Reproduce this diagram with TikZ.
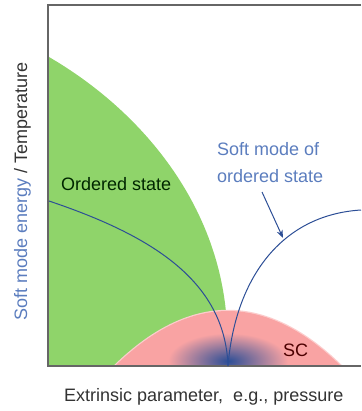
\documentclass[tikz,border=0pt]{standalone}
\usepackage{fontspec}
\setmainfont{Liberation Sans}
\usetikzlibrary{arrows.meta}
\definecolor{ordgreen}{HTML}{8FD46A}
\definecolor{scpink}{HTML}{F9A3A3}
\definecolor{modeblue}{HTML}{2C4E96}
\definecolor{lblblue}{HTML}{5B7DBE}
\colorlet{axgray}{black!60}
\colorlet{txtgray}{black!80}
\colorlet{ordtxt}{green!15!black}
\colorlet{sctxt}{red!30!black}
\tikzset{
    axline/.style={axgray,line width=1.3pt,line join=miter},
    softline/.style={modeblue,line width=1pt},
    lbl/.style={inner sep=0pt,font=\fontsize{18}{27}\selectfont}
}

\begin{document}
\begin{tikzpicture}[x=1pt,y=-1pt]
    \useasboundingbox (0,0) rectangle (361,411);
    \coordinate (qcp) at (228,366);
    \coordinate (lstart) at (49,201);
    \coordinate (rend) at (361,210);
    \coordinate (tail) at (262,192);
    \coordinate (tip) at (283,238);
    \fill [ordgreen] (49,366) -- (49,57)
        .. controls (140,110) and (215,200) .. (226,312)
        -- (226,366) -- cycle;
    \draw [scpink!55,line width=2.5pt] (115,366)
        .. controls (190.3,292.7) and (265.7,292.7) .. (341,366);
    \begin{scope}
        \clip (115,366) .. controls (190.3,292.7) and (265.7,292.7) .. (341,366) -- cycle;
        \fill [scpink] (0,0) rectangle (361,366);
        \shade [inner color=modeblue,outer color=scpink] (228,361) ellipse [x radius=60, y radius=28];
    \end{scope}
    \draw [axline] (361,5) -- (48,5) -- (48,366) -- (361,366);
    \draw [softline] (lstart) .. controls (150,235) and (225,280) .. (qcp);
    \draw [softline] (qcp) .. controls (235,280) and (280,215) .. (rend);
    \draw [modeblue,line width=1pt,-{Stealth[length=8pt,width=6pt]}] (tail) -- (tip);
    \node [lbl,ordtxt,anchor=base west] (ord) at (61,191) {Ordered state};
    \node [lbl,lblblue,anchor=north west,align=left] (soft) at (217,142) {Soft mode of\\ordered state};
    \node [lbl,sctxt,anchor=base west] (sc) at (283,356) {SC};
    \node [lbl,txtgray,anchor=base west] (xlab) at (64,401) {Extrinsic parameter,\ \ e.g., pressure};
    \node [lbl,anchor=base west,rotate=90] (ylab) at (27,321)
        {\textcolor{lblblue}{Soft mode energy} \textcolor{txtgray}{/ Temperature}};
\end{tikzpicture}
\end{document}
